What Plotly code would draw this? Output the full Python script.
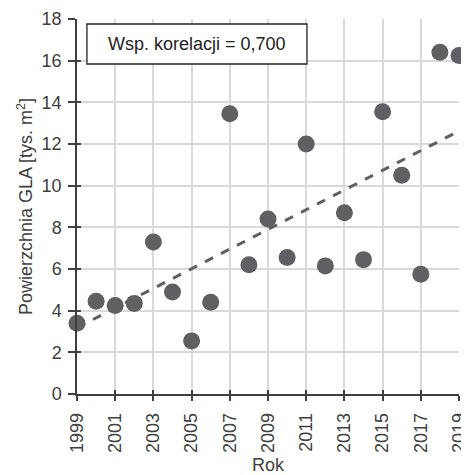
import numpy as np
import plotly.graph_objects as go

years = list(range(1999, 2020))
gla = [3.4, 4.45, 4.25, 4.35, 7.3, 4.9, 2.55, 4.4, 13.45, 6.2, 8.4,
       6.55, 12.0, 6.15, 8.7, 6.45, 13.55, 10.5, 5.75, 16.4, 16.25]
x_ticks = list(range(1999, 2020, 2))
y_ticks = list(range(0, 19, 2))
corr_label = "Wsp. korelacji = 0,700"

slope, intercept = np.polyfit(years, gla, 1)
trend_x = [years[0], years[-1]]
trend_y = [slope * x + intercept for x in trend_x]

FONT = "Liberation Sans, Arial, sans-serif"
TXT = "#404040"
PT = "#5f6064"
AX = "#404040"
FS = 18

fig = go.Figure()
fig.add_trace(go.Scatter(x=years, y=gla, mode="markers",
                         marker=dict(size=17, color=PT, line=dict(width=0)),
                         cliponaxis=False, showlegend=False, hoverinfo="x+y"))
fig.add_trace(go.Scatter(x=trend_x, y=trend_y, mode="lines",
                         line=dict(color=PT, width=3, dash="dash"),
                         cliponaxis=False, showlegend=False, hoverinfo="skip"))
# invisible trace so the inner-tick overlay axes are drawn
fig.add_trace(go.Scatter(x=[years[0]], y=[0], xaxis="x2", yaxis="y2",
                         mode="markers", marker=dict(opacity=0),
                         showlegend=False, hoverinfo="skip"))

common = dict(showline=True, linecolor=AX, linewidth=1.5, zeroline=False,
              tickcolor=AX, tickwidth=1.5, automargin=False)

# the page body has an 8px default margin, so the figure is 461x467
fig.update_layout(
    width=461, height=467,
    margin=dict(l=69, r=10, t=11, b=81),
    paper_bgcolor="white", plot_bgcolor="white",
    font=dict(family=FONT, size=FS, color=TXT),
    xaxis=dict(range=[1999, 2019], tickvals=x_ticks, tickangle=-90,
               showgrid=True, gridcolor="#d9d9d9", gridwidth=1.5,
               ticks="outside", ticklen=5, ticklabelstandoff=5,
               tickfont=dict(size=FS, color=TXT),
               title=dict(text="Rok", font=dict(size=FS, color=TXT), standoff=8),
               **common),
    yaxis=dict(range=[0, 18], tickvals=y_ticks,
               showgrid=True, gridcolor="#d9d9d9", gridwidth=1.5,
               ticks="outside", ticklen=7, ticklabelstandoff=3,
               tickfont=dict(size=FS, color=TXT),
               title=dict(text="Powierzchnia GLA [tys. m<sup>2</sup>]",
                          font=dict(size=FS, color=TXT), standoff=4),
               **common),
    xaxis2=dict(range=[1999, 2019], tickvals=x_ticks, overlaying="x",
                anchor="y2", side="bottom", ticks="inside", ticklen=4,
                showticklabels=False, showgrid=False, **common),
    yaxis2=dict(range=[0, 18], tickvals=y_ticks, overlaying="y",
                anchor="x2", side="left", ticks="inside", ticklen=4,
                showticklabels=False, showgrid=False, **common),
    shapes=[dict(type="rect", xref="paper", yref="paper",
                 x0=0.026, x1=0.602, y0=0.88, y1=0.9867,
                 line=dict(color="#222222", width=1.3), fillcolor="white",
                 layer="above")],
    annotations=[dict(text=corr_label, xref="paper", yref="paper",
                      x=(0.026 + 0.602) / 2, y=(0.88 + 0.9867) / 2,
                      xanchor="center", yanchor="middle",
                      showarrow=False, font=dict(size=FS, color="#222222"))],
)
fig.write_html("out.html")
